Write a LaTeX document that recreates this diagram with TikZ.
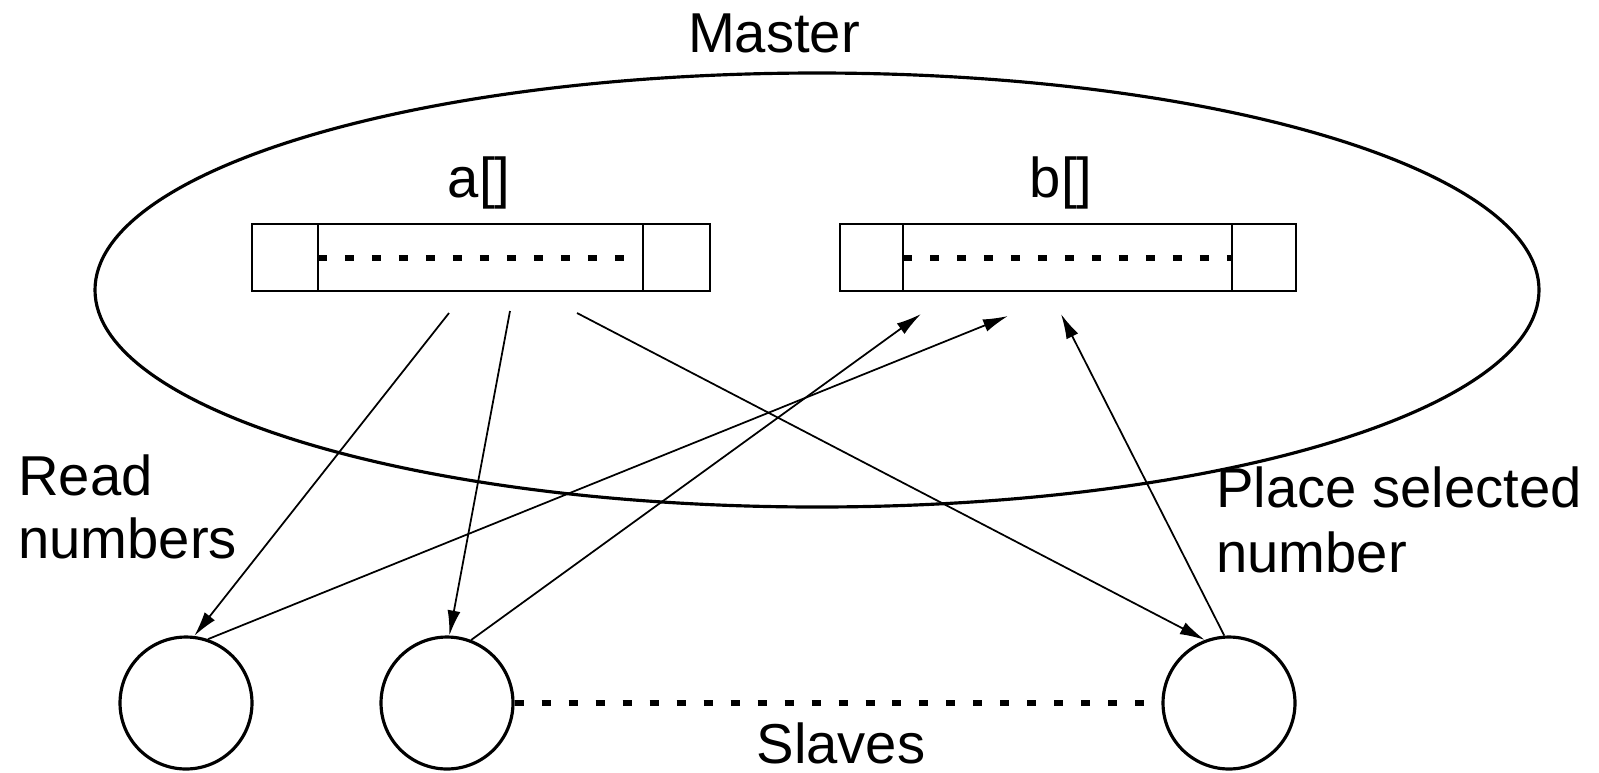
\documentclass[tikz,border=0pt]{standalone}
\usepackage{fontspec}
\setmainfont{Liberation Sans}
\usetikzlibrary{arrows.meta}

\newcommand*{\arrtop}{224}
\newcommand*{\arrbot}{291}
\newcommand*{\arrmid}{258}

\begin{document}
\begin{tikzpicture}[x=0.02cm, y=-0.02cm, line width=1.5pt,
	lbl/.style={font=\fontsize{32}{36}\selectfont, inner sep=0pt},
	slave/.style={circle, draw, line width=1.8pt, minimum size=2.64cm, inner sep=0pt},
	link/.style={line width=1pt, -{Latex[length=0.5cm,width=0.26cm]}},
	gap/.style={line width=3pt, dash pattern=on 0.18cm off 0.36cm}]

	\useasboundingbox (0,0) rectangle (1599,772);

	% master
	\draw[line width=1.8pt] (817,290) ellipse [x radius=722, y radius=217];
	\node[lbl, anchor=base] (master) at (774,52) {Master};

	% arrays
	\node[lbl, anchor=base] (alab) at (479,197) {a[]};
	\node[lbl, anchor=base] (blab) at (1061,197) {b[]};

	\draw (252,\arrtop) rectangle (710,\arrbot);
	\draw (318,\arrtop) -- (318,\arrbot) (643,\arrtop) -- (643,\arrbot);
	\draw[gap] (318,\arrmid) -- (643,\arrmid);

	\draw (840,\arrtop) rectangle (1296,\arrbot);
	\draw (903,\arrtop) -- (903,\arrbot) (1232,\arrtop) -- (1232,\arrbot);
	\draw[gap] (903,\arrmid) -- (1232,\arrmid);

	\coordinate (a1) at (449,313);
	\coordinate (a2) at (510,311);
	\coordinate (a3) at (577,313);
	\coordinate (b1) at (921,314);
	\coordinate (b2) at (1008,316);
	\coordinate (b3) at (1061,314);

	% slaves
	\node[slave] (s1) at (186,703) {};
	\node[slave] (s2) at (447,703) {};
	\node[slave] (s3) at (1229,703) {};
	\draw[gap] (s2.east) -- (s3.west);
	\node[lbl, anchor=base] (slaves) at (841,763) {Slaves};

	\draw[link] (a1) -- (s1.83);
	\draw[link] (a2) -- (s2.88);
	\draw[link] (a3) -- (s3.111);
	\draw[link] (s1.71) -- (b2);
	\draw[link] (s2.69) -- (b1);
	\draw[link] (s3.94) -- (b3);

	\node[lbl, anchor=north west, align=left] (read) at (17,453) {Read\\numbers};
	\node[lbl, anchor=north west, align=left, font=\fontsize{32}{37}\selectfont] (place) at (1215,465) {Place selected\\number};

\end{tikzpicture}
\end{document}
